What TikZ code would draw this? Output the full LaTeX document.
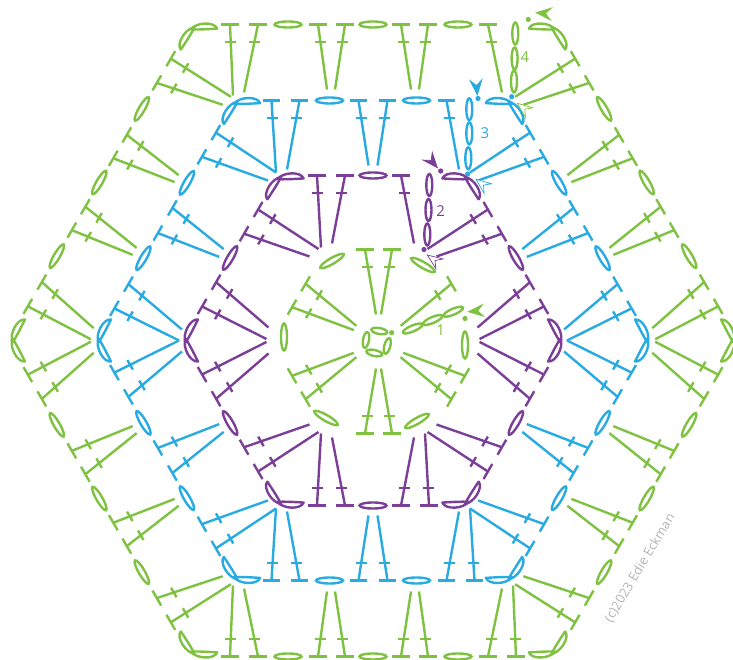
\documentclass[tikz,border=0pt]{standalone}
\usepackage{fontspec}
\setmainfont{Open Sans}
\definecolor{rndone}{HTML}{7FC241}
\definecolor{rndtwo}{HTML}{7B3F98}
\definecolor{rndthree}{HTML}{29ABE2}
\definecolor{credit}{HTML}{B4B4B4}
% stitch : colour, top x, top y, base x, base y
\newcommand{\stitchT}[5]{%
  \draw[yarn,#1] (#2,#3) -- (#4,#5);
  \draw[yarn,#1] ({#2-8.7},#3) -- ({#2+8.7},#3);
  \draw[yarn,#1] ({#2+((#4)-(#2))*17.5/((#3)-(#5))-5.5},{#3-17.5}) -- ({#2+((#4)-(#2))*17.5/((#3)-(#5))+5.5},{#3-17.5});}
% chain loop : [half length], colour, x, y, angle
\newcommand{\chainloop}[5][13.5]{\draw[yarn,#2,shift={(#3,#4)},rotate=#5] (0,0) ellipse [x radius=#1,y radius=3];}
% corner : colour, radius (two crescents crossing on the radial axis)
\newcommand{\petal}[2]{%
  \foreach \s in {1,-1}{
    \draw[yarn,line join=round,#1,rotate=60,shift={(#2,0)},yscale=\s] (-12,21) .. controls (-4,22) and (4,6) .. (0.5,-2) .. controls (-3,3) and (-8,13) .. cycle;}}
% start mark : look, x, y, angle
\newcommand{\startmark}[4]{\draw[line width=0.7pt,#1,shift={(#2,#3)},rotate=#4] (0,0) -- (15,6) -- (9.5,0) -- (15,-6) -- cycle;}
\begin{document}
\begin{tikzpicture}[x=1pt,y=1pt,
  yarn/.style={line width=2.4pt},
  num/.style={font=\fontsize{15}{15}\selectfont}]
  \useasboundingbox (-373,-319.5) rectangle (360,340.5);

  \foreach \ang in {0,60,...,300}{
    \begin{scope}[rotate=\ang]
      % round 4
      \foreach \tx/\bx/\by in {-143/-140/245,-115/-129/248,-55/-46/251,-28/-38/251,28/38/251,55/46/251,115/129/248}
        {\stitchT{rndone}{\tx}{316}{\bx}{\by}}
      \foreach \x in {-85,0,85}{\chainloop{rndone}{\x}{316}{0}}
      \petal{rndone}{360}
      % round 3
      \foreach \tx/\bx/\by in {-101.5/-97/168,-73.5/-86/171,-14.5/-4.5/175,14.5/4.5/175,73.5/86/171}
        {\stitchT{rndthree}{\tx}{240}{\bx}{\by}}
      \foreach \x in {-43.5,43.5}{\chainloop{rndthree}{\x}{240}{0}}
      \petal{rndthree}{274}
      % round 2
      \foreach \tx/\bx/\by in {-56/-52/93,-28/-41/97,28/41/97}
        {\stitchT{rndtwo}{\tx}{165}{\bx}{\by}}
      \chainloop{rndtwo}{0}{165}{0}
      \petal{rndtwo}{187}
    \end{scope}
  }
  % last stitch of each side, except where the round starts
  \foreach \ang in {60,120,...,300}{
    \begin{scope}[rotate=\ang]
      \stitchT{rndone}{143}{316}{140}{245}
      \stitchT{rndthree}{101.5}{240}{97}{168}
      \stitchT{rndtwo}{56}{165}{52}{93}
    \end{scope}
  }

  % round 1 : stitches
  \begin{scope}[shift={(5.5,-1)}]
    \foreach \ang in {0,60,...,300}{
      \begin{scope}[rotate=\ang]
        \stitchT{rndone}{-13.5}{92}{-2.5}{27}
      \end{scope}
    }
    \foreach \ang in {0,60,...,240}{
      \begin{scope}[rotate=\ang]
        \stitchT{rndone}{13.5}{92}{2.5}{27}
      \end{scope}
    }
  \end{scope}
  % round 1 : chains and centre ring
  \foreach \x/\y/\a in {-41/79.5/30,50/75.5/-30,-89/3.5/90,92/-4.5/90,-47/-77.5/-30,44/-80.5/30}
    {\chainloop{rndone}{\x}{\y}{\a}}
  \foreach \x/\y/\a in {6.3/9.5/-10,-7/0.5/80,14.3/-5.5/75,1.3/-12.5/-12}
    {\chainloop[8]{rndone}{\x}{\y}{\a}}
  \foreach \x/\y/\a in {39.7/12/23,59.7/20.5/23,80.3/28.8/23}
    {\chainloop[10.5]{rndone}{\x}{\y}{\a}}

  % starting columns
  \foreach \x/\y in {142.3/307,141.6/282,141/259}{\chainloop[11]{rndone}{\x}{\y}{90}}
  \foreach \x/\y in {96.3/231.2,96.3/207.2,95.3/182.2}{\chainloop[11]{rndthree}{\x}{\y}{90}}
  \foreach \x/\y in {56.3/155.5,55.5/130.5,54.3/106}{\chainloop[11]{rndtwo}{\x}{\y}{90}}

  % dots
  \fill[rndone] (18.7,7.8) circle (2.6);
  \fill[rndone] (92,22) circle (2.6);
  \fill[rndone] (155.3,321) circle (2.6);
  \fill[rndthree] (138.7,243.8) circle (2.6);
  \fill[rndthree] (105,242) circle (2.6);
  \fill[rndthree] (94.7,166.5) circle (2.6);
  \fill[rndtwo] (67.7,169.5) circle (2.6);
  \fill[rndtwo] (51,91) circle (2.6);

  % start marks
  \startmark{draw=rndone,fill=rndone}{95.3}{28.8}{5}
  \startmark{draw=rndone,fill=rndone}{163}{327.8}{-5}
  \startmark{draw=rndthree,fill=rndthree}{104.3}{245.5}{95}
  \startmark{draw=rndtwo,fill=rndtwo}{64.3}{172.8}{130}
  \startmark{draw=rndone,fill=white}{144.3}{237.2}{-38}
  \startmark{draw=rndthree,fill=white}{103}{161.2}{-38}
  \startmark{draw=rndtwo,fill=white}{54.3}{85.5}{-36}

  % round numbers
  \node[num,rndone] (lblone) at (67.7,10.5){1};
  \node[num,rndtwo] (lbltwo) at (67.7,129.8){2};
  \node[num,rndthree] (lblthree) at (112,207.2){3};
  \node[num,rndone] (lblfour) at (152,283.2){4};
  \node[credit,rotate=59,font=\fontsize{13}{13}\selectfont] (lblcredit) at (267,-227.5){(c)2023 Edie Eckman};
\end{tikzpicture}
\end{document}
